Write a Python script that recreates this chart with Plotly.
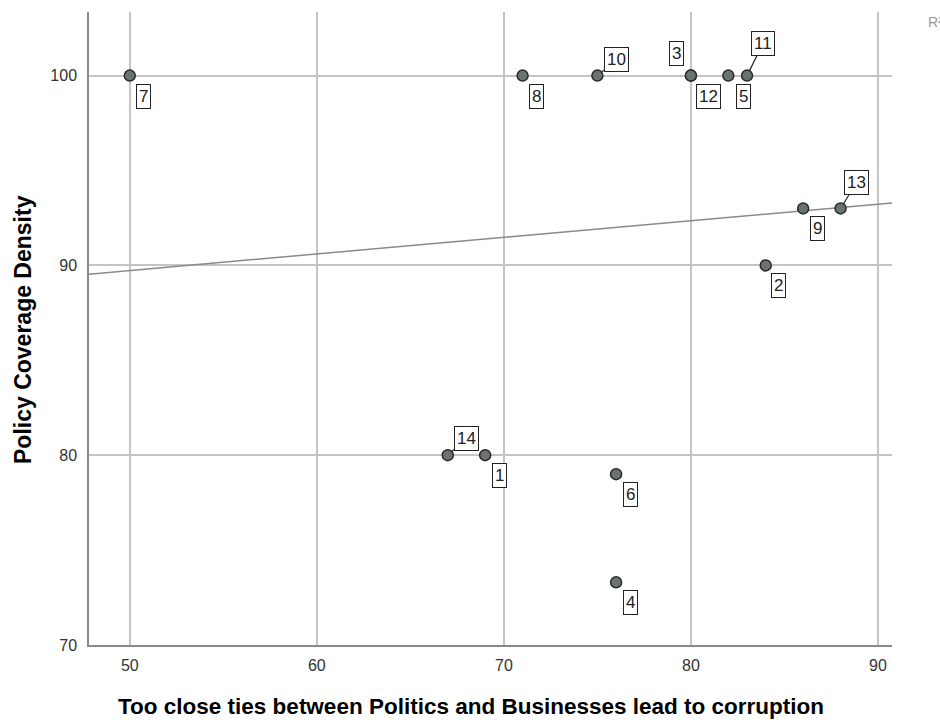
import numpy as np
import plotly.graph_objects as go

# Data
case_ids = ["1", "2", "3", "4", "5", "6", "7", "8", "9", "10", "11", "12", "13", "14"]
ties_corruption = [69, 84, 80, 76, 82, 76, 50, 71, 86, 75, 83, 80, 88, 67]
policy_density = [80, 90, 100, 73.3, 100, 79, 100, 100, 93, 100, 100, 100, 93, 80]
# label offsets in pixels (text box centre relative to point) and leader-line flags
label_dx = [14, 13, -14, 14, 15, 14, 14, 14, 14, 19, 16, 18, 16, 19]
label_dy = [20, 20, -22, 20, 21, 20, 21, 21, 20, -16, -32, 21, -26, -17]
label_leader = [False, False, False, False, False, False, False, False, False, True, True, False, True, True]

x_range = [47.82, 90.75]
y_range = [70, 103.35]
x_ticks = [50, 60, 70, 80, 90]
y_ticks = [70, 80, 90, 100]

FONT = "Liberation Sans, Arial, sans-serif"

fig = go.Figure()

# fit line
slope, intercept = np.polyfit(ties_corruption, policy_density, 1)
fx = np.array(x_range)
fig.add_trace(go.Scatter(
    x=fx, y=slope * fx + intercept, mode="lines",
    line=dict(color="#8a8a8a", width=1.5), hoverinfo="skip", showlegend=False,
))

fig.add_trace(go.Scatter(
    x=ties_corruption, y=policy_density, mode="markers",
    marker=dict(size=11, color="#6b7272", line=dict(color="#2a2a2a", width=1.5)),
    showlegend=False,
))

box_style = dict(bordercolor="#222", borderwidth=1, borderpad=2, bgcolor="white",
                 font=dict(family=FONT, size=17, color="#222"))
for cid, xv, yv, dx, dy, lead in zip(case_ids, ties_corruption, policy_density,
                                       label_dx, label_dy, label_leader):
    if lead:
        fig.add_annotation(
            x=xv, y=yv, text=cid, showarrow=True, ax=dx, ay=dy,
            arrowhead=0, arrowwidth=1.2, arrowcolor="#222", standoff=5, **box_style,
        )
    else:
        fig.add_annotation(
            x=xv, y=yv, text=cid, showarrow=False, xshift=dx, yshift=-dy,
            xanchor="center", yanchor="middle", **box_style,
        )

# axis titles
fig.add_annotation(
    text="<b>Too close ties between Politics and Businesses lead to corruption</b>",
    xref="paper", yref="paper", x=(471 - 89) / 803, y=-(706 - 645) / 633,
    xanchor="center", yanchor="middle", showarrow=False,
    font=dict(family=FONT, size=22.5, color="#000"),
)
fig.add_annotation(
    text="<b>Policy Coverage Density</b>", textangle=-90,
    xref="paper", yref="paper", x=-(89 - 23) / 803, y=(645 - 330) / 633,
    xanchor="center", yanchor="middle", showarrow=False,
    font=dict(family=FONT, size=23, color="#000"),
)
fig.add_annotation(
    text="R²", xref="paper", yref="paper", x=(926 - 89) / 803, y=(645 - 22) / 633,
    xanchor="left", yanchor="middle", showarrow=False,
    font=dict(family=FONT, size=14, color="#999"),
)

fig.update_xaxes(
    range=x_range, tickvals=x_ticks, showgrid=True, gridcolor="#c4c4c4", gridwidth=1.5,
    showline=True, linecolor="#8a8a8a", linewidth=1.5, zeroline=False,
    ticks="", tickfont=dict(family=FONT, size=16, color="#333"), ticklabelstandoff=5,
)
fig.update_yaxes(
    range=y_range, tickvals=y_ticks, showgrid=True, gridcolor="#c4c4c4", gridwidth=1.5,
    showline=True, linecolor="#8a8a8a", linewidth=1.5, zeroline=False,
    ticks="", tickfont=dict(family=FONT, size=16, color="#333"), ticklabelstandoff=7,
)

fig.update_layout(
    width=940, height=722,
    margin=dict(l=89, r=48, t=12, b=77),
    plot_bgcolor="white", paper_bgcolor="white",
    showlegend=False,
)

fig.write_html("out.html")
